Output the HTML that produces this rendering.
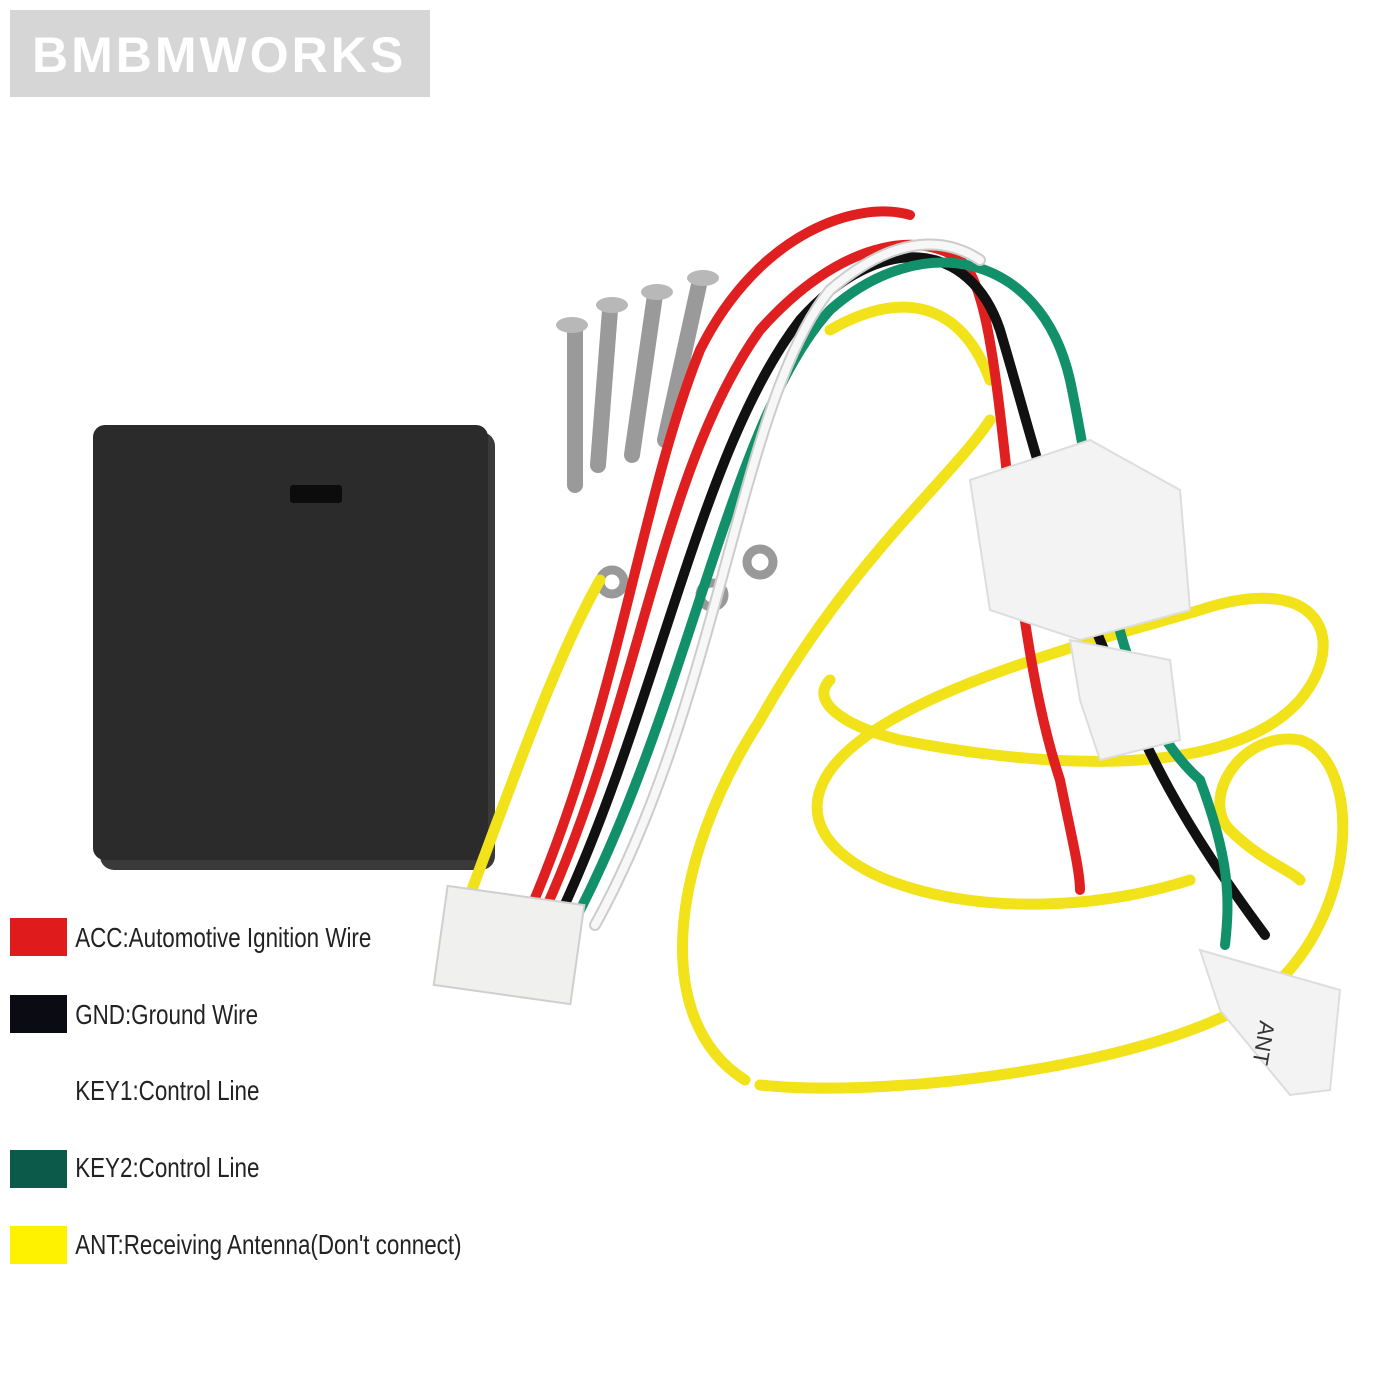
<!DOCTYPE html>
<html><head><meta charset="utf-8"><style>
html,body{margin:0;padding:0;background:#fff;}
body{width:1400px;height:1400px;overflow:hidden;position:relative;font-family:"Liberation Sans",sans-serif;}
</style></head><body>
<svg width="1400" height="1400" viewBox="0 0 1400 1400" xmlns="http://www.w3.org/2000/svg" style="position:absolute;left:0;top:0">
<rect x="0" y="0" width="1400" height="1400" fill="#fff"/>
<rect x="10" y="10" width="420" height="87" fill="#d6d6d6"/>
<text x="32" y="72" font-family="Liberation Sans, sans-serif" font-weight="bold" font-size="50" fill="#fff" letter-spacing="3">BMBMWORKS</text>
<rect x="100" y="432" width="395" height="438" rx="14" fill="#3a3a3a"/>
<rect x="93" y="425" width="395" height="435" rx="12" fill="#2b2b2b"/>
<rect x="290" y="485" width="52" height="18" rx="3" fill="#0c0c0c"/>
<g stroke="#9a9a9a" stroke-width="16" stroke-linecap="round">
<line x1="575" y1="330" x2="575" y2="485"/>
<line x1="610" y1="310" x2="598" y2="465"/>
<line x1="655" y1="295" x2="632" y2="455"/>
<line x1="700" y1="280" x2="665" y2="440"/>
</g>
<g fill="#b8b8b8">
<ellipse cx="572" cy="325" rx="16" ry="8"/><ellipse cx="612" cy="305" rx="16" ry="8"/>
<ellipse cx="657" cy="292" rx="16" ry="8"/><ellipse cx="703" cy="278" rx="16" ry="8"/>
</g>
<g fill="none" stroke="#999" stroke-width="9">
<circle cx="612" cy="582" r="12"/><circle cx="712" cy="595" r="12"/><circle cx="760" cy="562" r="13"/>
</g>
<g fill="none" stroke="#f2e21a" stroke-width="11" stroke-linecap="round">
<path d="M470 895 C520 760 560 650 600 580"/>
<path d="M745 1080 C650 1020 670 860 760 720 C850 560 950 480 990 420"/>
<path d="M1190 880 C1000 940 790 880 820 790 C850 700 1100 640 1200 610 C1320 570 1350 640 1300 700 C1220 790 1000 760 900 740 C840 725 810 700 830 680"/>
<path d="M760 1085 C900 1100 1200 1060 1280 980 C1360 900 1360 760 1300 740 C1240 730 1200 800 1230 830 C1260 860 1290 870 1300 880"/>
<path d="M830 330 C900 290 960 300 990 380"/>
</g>
<g fill="none" stroke-width="10" stroke-linecap="round">
<path d="M530 910 C620 700 640 500 700 350 C760 230 860 200 910 215" stroke="#e02020"/>
<path d="M545 910 C640 700 660 470 760 330 C840 240 920 230 960 260 C1010 300 1000 600 1060 780 C1070 830 1080 870 1080 890" stroke="#e02020"/>
<path d="M560 915 C660 700 700 450 800 320 C880 230 970 240 1000 330 C1030 430 1050 520 1100 640 C1150 760 1180 820 1265 935" stroke="#111"/>
<path d="M575 920 C690 700 730 420 830 310 C920 230 1040 250 1070 380 C1100 520 1110 700 1200 780 C1230 860 1230 900 1225 945" stroke="#12906a"/>
<path d="M595 925 C720 700 740 400 830 290 C900 230 950 240 980 260" stroke="#ccc" stroke-width="12"/>
<path d="M595 925 C720 700 740 400 830 290 C900 230 950 240 980 260" stroke="#f7f7f7" stroke-width="8"/>
</g>
<g fill="#f3f3f3" stroke="#ddd" stroke-width="2">
<path d="M970 480 L1090 440 L1180 490 L1190 610 L1080 640 L990 610 Z"/>
<path d="M1070 640 L1170 660 L1180 740 L1100 760 L1080 700 Z"/>
<path d="M1200 950 L1340 990 L1330 1090 L1290 1095 L1220 1010 Z"/>
</g>
<text x="1260" y="1020" font-size="22" fill="#333" transform="rotate(100 1260 1020)">ANT</text>
<rect x="440" y="895" width="138" height="100" fill="#f0f0ee" stroke="#cfcfcf" stroke-width="2" transform="rotate(8 509 945)"/>
<rect x="10" y="918" width="57" height="38" fill="#e01b1b"/>
<rect x="10" y="995" width="57" height="38" fill="#0b0b14"/>
<rect x="10" y="1150" width="57" height="38" fill="#0b5a4a"/>
<rect x="10" y="1226" width="57" height="38" fill="#fff200"/>
<g font-family="Liberation Sans, sans-serif" font-size="28" fill="#222" transform="scale(0.80 1)">
<text x="94" y="947">ACC:Automotive Ignition Wire</text>
<text x="94" y="1024">GND:Ground Wire</text>
<text x="94" y="1100">KEY1:Control Line</text>
<text x="94" y="1177">KEY2:Control Line</text>
<text x="94" y="1254">ANT:Receiving Antenna(Don't connect)</text>
</g>
</svg>
</body></html>
